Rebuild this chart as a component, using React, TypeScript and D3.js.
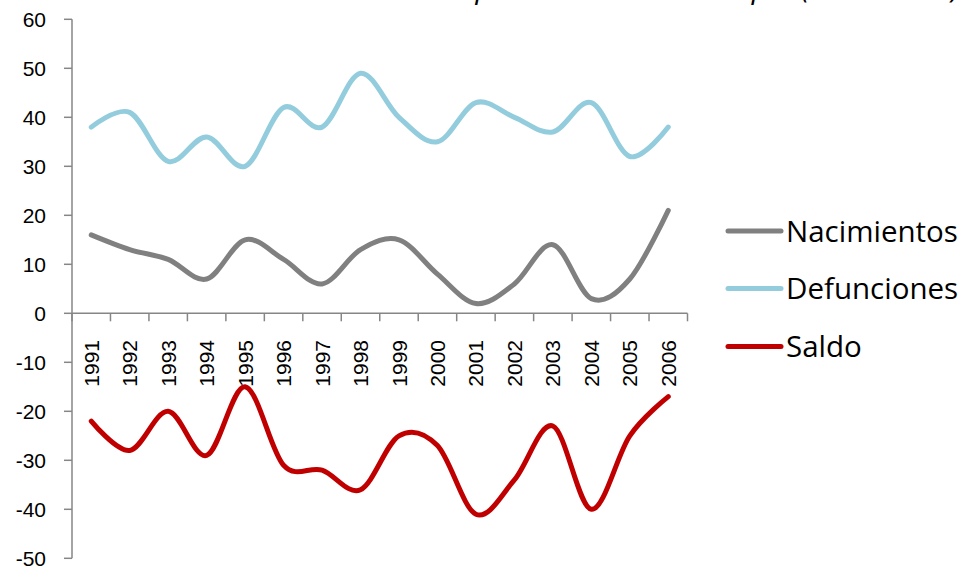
import React from "react";
import * as d3 from "d3";

const years = ["1991","1992","1993","1994","1995","1996","1997","1998","1999","2000","2001","2002","2003","2004","2005","2006"];
const nacimientos = [16, 13, 11, 7, 15, 11, 6, 13, 15, 8, 2, 6, 14, 3, 7, 21];
const defunciones = [38, 41, 31, 36, 30, 42, 38, 49, 40, 35, 43, 40, 37, 43, 32, 38];
const saldo = [-22, -28, -20, -29, -15, -31, -32, -36, -25, -27, -41, -34, -23, -40, -25, -17];
const yTicks = [60, 50, 40, 30, 20, 10, 0, -10, -20, -30, -40, -50];
const title = "Crecimiento natural de la población del municipio (1991-2006)";

const seriesList = [
  { name: "Nacimientos", values: nacimientos, color: "#808080" },
  { name: "Defunciones", values: defunciones, color: "#93CDDD" },
  { name: "Saldo", values: saldo, color: "#C00000" },
];

export default function App() {
  const W = 963, H = 568;
  const x = d3.scaleBand<string>().domain(years).range([72, 687.5]);
  const y = d3.scaleLinear().domain([-50, 60]).range([558.3, 19.3]);
  const cx = (yr: string) => (x(yr) as number) + x.bandwidth() / 2;
  const line = d3
    .line<number>()
    .x((_, i) => cx(years[i]))
    .y((v) => y(v))
    .curve(d3.curveCardinal.tension(0));
  const axisColor = "#868686";
  const tickFont = "'Liberation Sans', Arial, sans-serif";
  const boundaries = d3.range(years.length + 1).map((i) => 72 + i * x.bandwidth());
  const legendY = [231, 288.5, 346.5];

  return (
    <svg width={W} height={H} style={{ position: "absolute", left: 0, top: 0, background: "#fff" }}>
      <rect x={0} y={0} width={W} height={H} fill="#fff" />
      <text
        x={960}
        y={-2}
        textAnchor="end"
        fontStyle="italic"
        fontSize={30}
        fontFamily="'Open Sans', sans-serif"
        fill="#000"
      >
        {title}
      </text>
      {/* Y axis */}
      <line x1={72} x2={72} y1={y(60)} y2={y(-50)} stroke={axisColor} strokeWidth={1.5} />
      {yTicks.map((t) => (
        <g key={t}>
          <line x1={64} x2={72} y1={y(t)} y2={y(t)} stroke={axisColor} strokeWidth={1.5} />
          <text
            x={46}
            y={y(t)}
            dy="0.35em"
            textAnchor="end"
            fontSize={21}
            fontFamily={tickFont}
            fill="#000"
          >
            {t}
          </text>
        </g>
      ))}
      {/* X axis */}
      <line x1={72} x2={687.5} y1={y(0)} y2={y(0)} stroke={axisColor} strokeWidth={1.5} />
      {boundaries.map((b, i) => (
        <line key={i} x1={b} x2={b} y1={y(0)} y2={y(0) + 8} stroke={axisColor} strokeWidth={1.5} />
      ))}
      {years.map((yr) => (
        <text
          key={yr}
          transform={`translate(${cx(yr)},340) rotate(-90)`}
          dy="0.36em"
          textAnchor="end"
          fontSize={21}
          fontFamily={tickFont}
          fill="#000"
        >
          {yr}
        </text>
      ))}
      {/* Series */}
      {seriesList.map((s) => (
        <path
          key={s.name}
          d={line(s.values) as string}
          fill="none"
          stroke={s.color}
          strokeWidth={5}
          strokeLinecap="round"
          strokeLinejoin="round"
        />
      ))}
      {/* Legend */}
      {seriesList.map((s, i) => (
        <g key={s.name}>
          <line
            x1={728}
            x2={781}
            y1={legendY[i]}
            y2={legendY[i]}
            stroke={s.color}
            strokeWidth={5}
            strokeLinecap="round"
          />
          <text
            x={786}
            y={legendY[i]}
            dy="0.36em"
            fontSize={29.5}
            fontFamily="'Open Sans', sans-serif"
            fill="#000"
          >
            {s.name}
          </text>
        </g>
      ))}
    </svg>
  );
}
